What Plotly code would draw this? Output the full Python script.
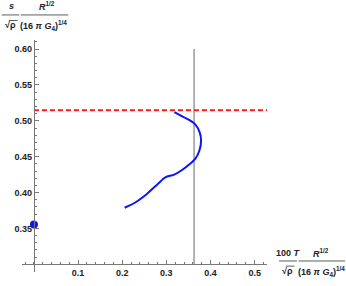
import plotly.graph_objects as go

# ---- data ----
curve_x = [0.2055, 0.2297, 0.2524, 0.2751, 0.2940, 0.3016, 0.3166, 0.3356, 0.3544,
           0.3658, 0.3749, 0.3787, 0.3757, 0.3658, 0.3506, 0.3318, 0.3182]
curve_y = [0.3789, 0.3862, 0.3962, 0.4088, 0.4197, 0.4224, 0.4247, 0.4315, 0.4405,
           0.4473, 0.4587, 0.4723, 0.4836, 0.4948, 0.5016, 0.5076, 0.5121]
dot_x = [0.0]
dot_y = [0.3554]
vline_x = 0.3628
vline_y = [0.30, 0.60]
hline_y = 0.5148
hline_x = [0.0, 0.528]

x_ticks = [0.1, 0.2, 0.3, 0.4, 0.5]
x_ticklabels = ["0.1", "0.2", "0.3", "0.4", "0.5"]
y_ticks = [0.35, 0.40, 0.45, 0.50, 0.55, 0.60]
y_ticklabels = ["0.35", "0.40", "0.45", "0.50", "0.55", "0.60"]

W, H = 346, 286
ML, MR, MT, MB = 22, 79, 40, 8
XR = [-0.027, 0.528]
YR = [0.2893, 0.6127]
x_cross = 0.0
y_cross = 0.30

fig = go.Figure()
fig.add_trace(go.Scatter(x=[vline_x, vline_x], y=vline_y, mode="lines",
                         line=dict(color="#a0a0a0", width=1.6), hoverinfo="skip"))
fig.add_trace(go.Scatter(x=hline_x, y=[hline_y, hline_y], mode="lines",
                         line=dict(color="#ff1a1a", width=1.8, dash="5px,3px"), hoverinfo="skip"))
fig.add_trace(go.Scatter(x=curve_x, y=curve_y, mode="lines",
                         line=dict(color="#0a14ff", width=2, shape="spline", smoothing=0.6)))
fig.add_trace(go.Scatter(x=dot_x, y=dot_y, mode="markers",
                         marker=dict(color="#0a14ff", size=8), cliponaxis=False))

pw = W - ML - MR
ph = H - MT - MB


def px(xp):
    return (xp - ML) / pw


def py(yp):
    return (H - MB - yp) / ph


font = dict(family="Liberation Sans, Arial", size=9, color="#222222", weight="bold")
annots = []
shapes = []


def label(text, cx, cy):
    annots.append(dict(text=text, x=px(cx), y=py(cy), xref="paper", yref="paper",
                       xanchor="center", yanchor="middle", showarrow=False, font=font))


def bar(x0, x1, y):
    shapes.append(dict(type="line", xref="paper", yref="paper", x0=px(x0), x1=px(x1),
                       y0=py(y), y1=py(y), line=dict(color="#333333", width=0.8)))


# y-axis title (top-left)
label("<i>s</i>", 11.5, 5)
bar(1.7, 19.3, 14.3)
label("√ρ", 10, 25)
bar(8.8, 17.5, 20.0)
label("<i>R</i><sup>1/2</sup>", 47, 5)
bar(20.7, 68.3, 14.3)
label("(16 <i>π</i> <i>G</i><sub>4</sub>)<sup>1/4</sup>", 43.5, 25)

# x-axis title (bottom-right)
label("100 <i>T</i>", 288, 258)
bar(279, 297, 266.7)
label("√ρ", 287, 277)
bar(285.8, 294.5, 272.0)
label("<i>R</i><sup>1/2</sup>", 321, 258)
bar(298.5, 345, 266.7)
label("(16 <i>π</i> <i>G</i><sub>4</sub>)<sup>1/4</sup>", 321, 277)

axis_color = "#777777"
tickfont = dict(family="Liberation Sans, Arial", size=9, color="#222222", weight="bold")

fig.update_layout(
    width=W, height=H,
    margin=dict(l=ML, r=MR, t=MT, b=MB),
    paper_bgcolor="white", plot_bgcolor="white",
    showlegend=False,
    annotations=annots, shapes=shapes,
    xaxis=dict(range=XR, anchor="free",
               position=(y_cross - YR[0]) / (YR[1] - YR[0]),
               showgrid=False, zeroline=False, showline=True, linecolor=axis_color, linewidth=1,
               tickmode="array", tickvals=x_ticks, ticktext=x_ticklabels,
               ticks="inside", ticklen=4, tickcolor=axis_color, tickwidth=1,
               minor=dict(dtick=0.02, tick0=0, ticks="inside", ticklen=2, tickcolor=axis_color),
               tickfont=tickfont),
    yaxis=dict(range=YR, anchor="free",
               position=(x_cross - XR[0]) / (XR[1] - XR[0]),
               showgrid=False, zeroline=False, showline=True, linecolor=axis_color, linewidth=1,
               tickmode="array", tickvals=y_ticks, ticktext=y_ticklabels,
               ticks="inside", ticklen=4, tickcolor=axis_color, tickwidth=1,
               minor=dict(dtick=0.01, tick0=0, ticks="inside", ticklen=2, tickcolor=axis_color),
               tickfont=tickfont),
)

fig.write_html("out.html", config={"displayModeBar": False},
               post_script="document.body.style.margin='0';document.body.style.padding='0';")
